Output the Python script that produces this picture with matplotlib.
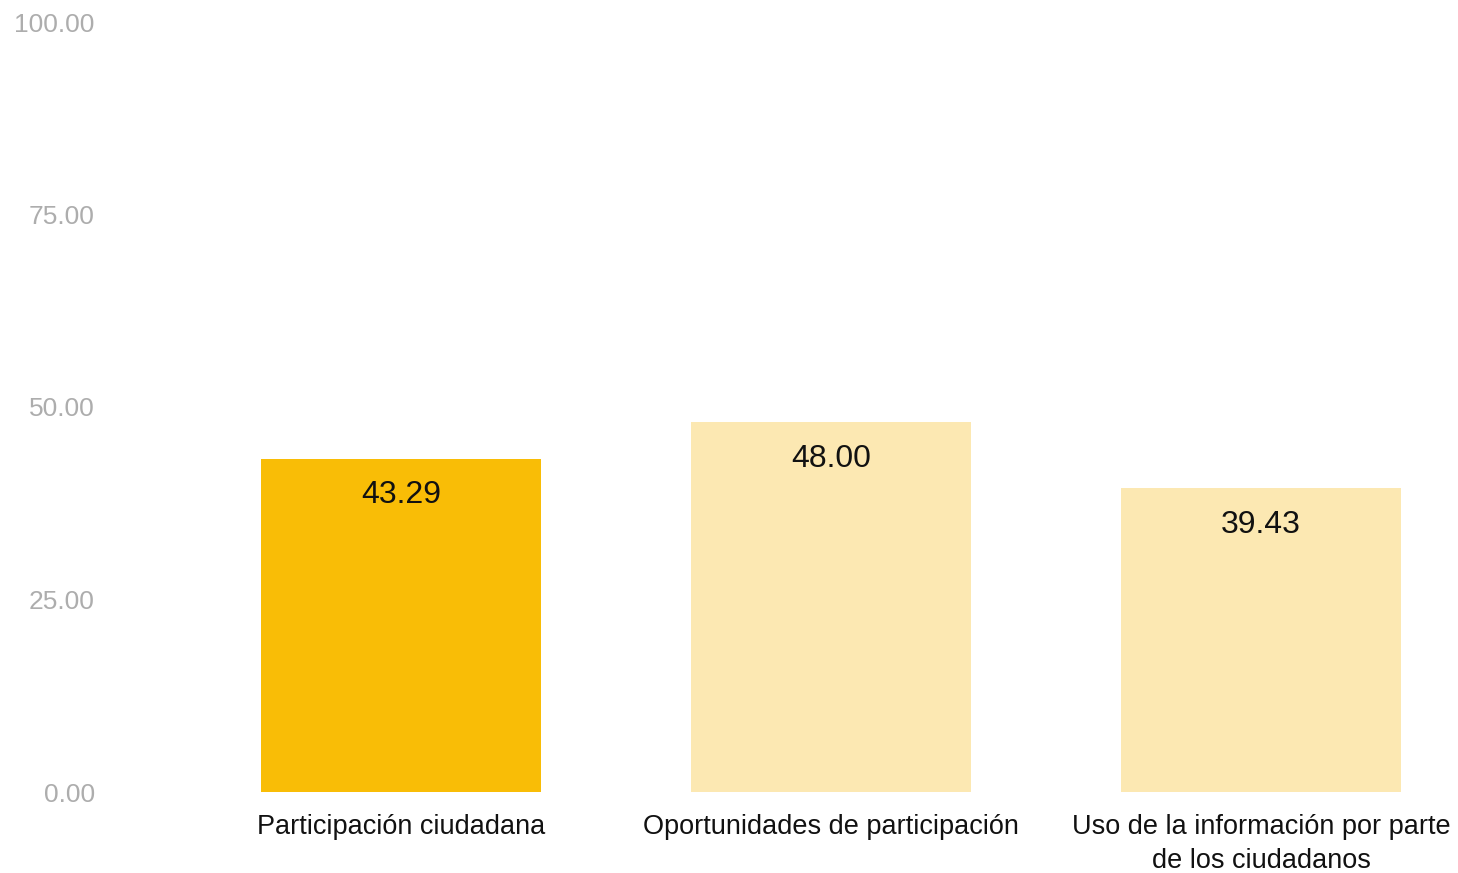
import matplotlib.pyplot as plt

plt.rcParams['font.family'] = ['Liberation Sans', 'DejaVu Sans']

categories = ['Participación ciudadana', 'Oportunidades de participación',
              'Uso de la información por parte\nde los ciudadanos']
values = [43.29, 48.00, 39.43]
colors = ['#F9BD06', '#FCE8B2', '#FCE8B2']
yticks = [0, 25, 50, 75, 100]

fig = plt.figure(figsize=(14.58, 8.73), dpi=100)
# axes placed in pixel terms: left 110, right 1458, bottom 81, top 851
ax = fig.add_axes([110 / 1458, 81 / 873, 1348 / 1458, 770 / 873])

x = range(len(categories))
ax.bar(x, values, width=0.65, color=colors, zorder=2)

for i, v in enumerate(values):
    ax.annotate(f'{v:.2f}', xy=(i, v), xytext=(0, -26.5), textcoords='offset points',
                ha='center', va='center', fontsize=23, color='#111111')

ax.set_xlim((110 - 401) / 430, (1458 - 401) / 430)
ax.set_ylim(0, 100)
ax.set_yticks(yticks)
ax.set_yticklabels([f'{t:.2f}' for t in yticks], fontsize=19, color='#adadad')
ax.set_xticks(list(x))
ax.set_xticklabels(categories, fontsize=19.5, color='#111111', linespacing=1.4)
ax.tick_params(axis='y', length=0, pad=11)
ax.tick_params(axis='x', length=0, pad=16)
for s in ax.spines.values():
    s.set_visible(False)

fig.savefig('out.png', dpi=100)
